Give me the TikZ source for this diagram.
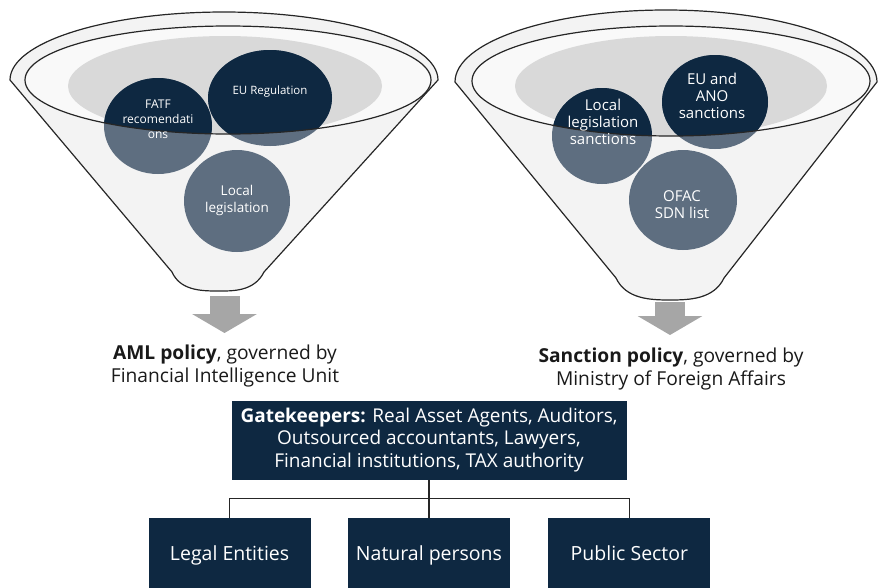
\documentclass[tikz,border=0pt]{standalone}
\usepackage{fontspec}
\setmainfont{Open Sans}
\usetikzlibrary{arrows.meta,positioning,shapes.geometric}
\definecolor{navy}{HTML}{0E2841}
\definecolor{slate}{HTML}{5E6E80}
\definecolor{rim}{HTML}{F3F3F3}
\definecolor{bowl}{HTML}{D9D9D9}
\definecolor{flow}{HTML}{A6A6A6}

\begin{document}
\begin{tikzpicture}[x=1pt, y=-1pt,
  funnel/.style={fill=rim, draw=black!85, line width=1.2pt},
  rimline/.style={draw=black!85, line width=1.2pt},
  disc/.style={ellipse, fill=slate, inner sep=0pt},
  disctext/.style={text=white, align=center, font=\fontsize{13}{16}\selectfont},
  policy/.style={align=center, inner sep=0pt, text=black!90, font=\fontsize{19.2}{23}\selectfont},
  box/.style={fill=navy, text=white, align=center, inner sep=0pt, font=\fontsize{19}{22.5}\selectfont},
  leaf/.style={box, minimum width=162pt, minimum height=76pt, text height=14pt, text depth=4pt, font=\fontsize{19.5}{22}\selectfont},
  flowarrow/.style={draw=flow, line width=30pt, -{Triangle[width=64pt, length=19pt]}},
  tree/.style={draw=black!85, line width=1.3pt}
]
\useasboundingbox (0,0) rectangle (878,587);

\filldraw[funnel] (10,80) arc[start angle=180, end angle=360, x radius=214, y radius=68]
  -- (264,272) .. controls (254,292) and (232,291) .. (217,291)
  .. controls (200,291) and (180,290) .. (172,272) -- cycle;
\fill[white!50!rim] (228,80) ellipse [x radius=203, y radius=54];
\begin{scope}
  \clip (228,80) ellipse [x radius=203, y radius=54];
  \fill[bowl] (225,86) ellipse [x radius=157, y radius=50];
\end{scope}
\node[disc, minimum width=108pt, minimum height=96pt] (fatf) at (158,126) {};
\node[disc, minimum width=124pt, minimum height=96pt] (eureg) at (270,98) {};
\node[disc, minimum width=106pt, minimum height=102pt] (locleg) at (237,201) {};
\begin{scope}
  \clip (228,80) ellipse [x radius=203, y radius=54];
  \fill[navy] (fatf.center) ellipse [x radius=54, y radius=48];
  \fill[navy] (eureg.center) ellipse [x radius=62, y radius=48];
\end{scope}
\draw[rimline] (228,80) ellipse [x radius=203, y radius=54];
\node[disctext, font=\fontsize{12}{15}\selectfont] (fatflbl) at (158,119) {FATF\\recomendati\\ons};
\node[disctext, font=\fontsize{11.5}{14}\selectfont] (eureglbl) at (270,92) {EU Regulation};
\node[disctext, font=\fontsize{13.5}{17}\selectfont] (loclegtxt) at (237,200) {Local\\legislation};

\filldraw[funnel] (455,82) arc[start angle=180, end angle=360, x radius=211, y radius=72]
  -- (724,278) .. controls (714,299) and (690,300) .. (670,300)
  .. controls (650,300) and (626,299) .. (616,278) -- cycle;
\fill[white!50!rim] (671,81) ellipse [x radius=199, y radius=55];
\begin{scope}
  \clip (671,81) ellipse [x radius=199, y radius=55];
  \fill[bowl] (671,86) ellipse [x radius=156, y radius=50];
\end{scope}
\node[disc, minimum width=100pt, minimum height=96pt] (locsan) at (602,136) {};
\node[disc, minimum width=106pt, minimum height=94pt] (euano) at (715,102) {};
\node[disc, minimum width=108pt, minimum height=100pt] (ofac) at (683,200) {};
\begin{scope}
  \clip (671,81) ellipse [x radius=199, y radius=55];
  \fill[navy] (locsan.center) ellipse [x radius=50, y radius=48];
  \fill[navy] (euano.center) ellipse [x radius=53, y radius=47];
\end{scope}
\draw[rimline] (671,81) ellipse [x radius=199, y radius=55];
\node[disctext, font=\fontsize{15}{17}\selectfont] (locsanlbl) at (603,122) {Local\\legislation\\sanctions};
\node[disctext, font=\fontsize{15}{17}\selectfont] (euanolbl) at (712,96) {EU and\\ANO\\sanctions};
\node[disctext, font=\fontsize{15}{17}\selectfont] (ofaclbl) at (682,205) {OFAC\\SDN list};

\coordinate (amltop) at (224.5,296);
\coordinate (amltip) at (224.5,333);
\coordinate (sanctop) at (670,302);
\coordinate (sanctip) at (670,335);
\draw[flowarrow] (amltop) -- (amltip);
\draw[flowarrow] (sanctop) -- (sanctip);

\node[policy] (aml) at (225,366) {\textbf{AML policy}, governed by\\Financial Intelligence Unit};
\node[policy] (sanc) at (671,369) {\textbf{Sanction policy}, governed by\\Ministry of Foreign Affairs};

\node[box, minimum width=395pt, minimum height=79pt] (gate) at (429,440)
  {\textbf{Gatekeepers:} Real Asset Agents, Auditors,\\Outsourced accountants, Lawyers,\\Financial institutions, TAX authority};
\node[leaf, below=38pt of gate] (natural) {Natural persons};
\node[leaf, left=37pt of natural] (legal) {Legal Entities};
\node[leaf, right=38pt of natural] (public) {Public Sector};

\draw[tree] (gate.south) -- (natural.north);
\draw[tree] (gate.south) ++(0,19) -| (legal.north);
\draw[tree] (gate.south) ++(0,19) -| (public.north);
\end{tikzpicture}
\end{document}
